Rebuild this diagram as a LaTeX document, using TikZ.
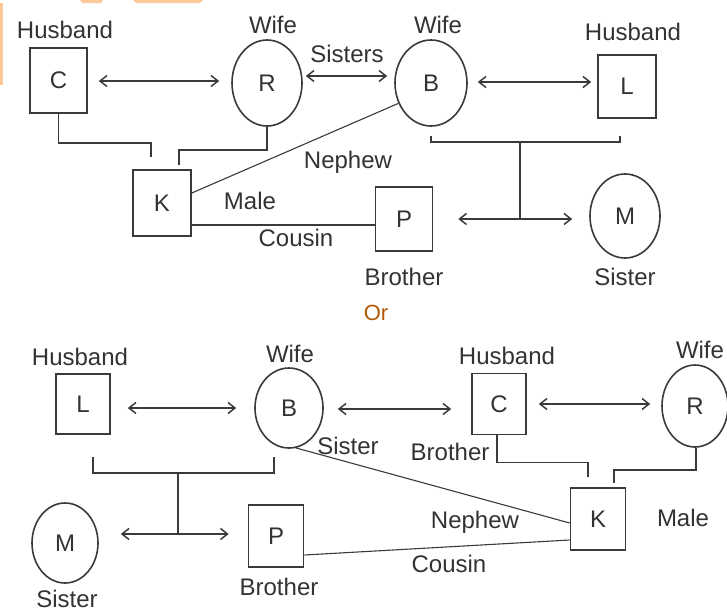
\documentclass[tikz,border=0pt]{standalone}
\usepackage{fontspec}
\setmainfont{Liberation Sans}
\usetikzlibrary{shapes.geometric,arrows.meta}
\definecolor{ink}{HTML}{3A3A3A}
\definecolor{txt}{HTML}{333333}
\definecolor{orbrown}{HTML}{B35900}
\definecolor{wm}{HTML}{FDC89A}
\tikzset{
  lbl/.style={text=txt,font=\fontsize{24}{26}\selectfont,inner sep=0pt},
  person/.style={draw=ink,line width=1.6pt,text=txt,font=\fontsize{24}{26}\selectfont,inner sep=0pt},
  male/.style={person,rectangle},
  female/.style={person,ellipse},
  link/.style={draw=ink,line width=1.5pt},
  thin link/.style={draw=ink,line width=1.1pt},
  dbl/.style={link,{Straight Barb[length=7pt,width=11pt]}-{Straight Barb[length=7pt,width=11pt]}}
}
\begin{document}
\begin{tikzpicture}[x=1pt,y=-1pt]
\useasboundingbox[fill=white] (0,0) rectangle (727,613);
% watermark remnants
\fill[wm] (0,3) rectangle (2.5,85);
\fill[wm] (80,0) -- (103,0) -- (101,3) -- (82,3) -- cycle;
\fill[wm] (133,0) -- (203,0) -- (200,3) -- (136,3) -- cycle;

% ================= top diagram =================
\node[male,minimum width=57pt,minimum height=65pt] (C) at (58.5,80.5) {C};
\node[female,minimum width=70pt,minimum height=86pt] (R) at (267,83) {R};
\node[female,minimum width=72pt,minimum height=86pt] (B) at (431,83) {B};
\node[male,minimum width=58pt,minimum height=63pt] (L) at (627,86.5) {L};
\node[male,minimum width=58pt,minimum height=66pt] (K) at (162,203) {K};
\node[male,minimum width=57pt,minimum height=64pt] (P) at (404,219) {P};
\node[female,minimum width=70pt,minimum height=84pt] (M) at (625,216) {M};

\node[lbl] (t1) at (65,30) {Husband};
\node[lbl] (t2) at (273,25) {Wife};
\node[lbl] (t3) at (438,25) {Wife};
\node[lbl] (t4) at (633,32) {Husband};
\node[lbl] (t5) at (347,54) {Sisters};
\node[lbl] (t6) at (348,162) {Nephew};
\node[lbl] (t7) at (250,201) {Male};
\node[lbl] (t8) at (296,238) {Cousin};
\node[lbl] (t9) at (404,277) {Brother};
\node[lbl] (t10) at (625,277) {Sister};

\node[text=orbrown,font=\fontsize{22}{24}\selectfont,inner sep=0pt] (or) at (376,313) {Or};

% couples
\draw[dbl] ([xshift=11pt,yshift=-0.5pt]C.east) -- ([xshift=-12pt,yshift=-0.5pt]C.east -| R.west);
\draw[dbl] ([xshift=3pt,yshift=7pt]R.east) -- ([xshift=-7pt,yshift=7pt]R.east -| B.west);
\draw[dbl] ([xshift=10pt,yshift=1pt]B.east) -- ([xshift=-6pt,yshift=1pt]B.east -| L.west);
% children of B and L
\coordinate (bl1) at (431,136);
\coordinate (bl2) at (620,136);
\coordinate (blm) at (520,142);
\coordinate (bla) at (520,219);
\draw[link] (bl1) -- ++(0,6) -| (bl2);
\draw[link] (blm) -- (bla);
\draw[dbl] ([xshift=25pt]P.east |- bla) -- ([xshift=-17pt]M.west |- bla);
% parents of K
\coordinate (ck) at (151,157);
\coordinate (rk) at (179,165);
\draw[link] (C.south) -- ++(0,29) -| (ck);
\draw[link] (R.south) -- ++(0,23) -| (rk);
% nephew and cousin
\draw[thin link] (B.212) -- ([yshift=10pt]K.east);
\draw[link] ([yshift=-22pt]K.east) -- ([yshift=-22pt]K.east -| P.west);

% ================= bottom diagram =================
\node[male,minimum width=54pt,minimum height=60pt] (L2) at (83,404) {L};
\node[female,minimum width=68pt,minimum height=80pt] (B2) at (289,408) {B};
\node[male,minimum width=54pt,minimum height=61pt] (C2) at (499,404) {C};
\node[female,minimum width=66pt,minimum height=82pt] (R2) at (695,406) {R};
\node[male,minimum width=55pt,minimum height=62pt] (K2) at (598,519) {K};
\node[female,minimum width=66pt,minimum height=80pt] (M2) at (65,543) {M};
\node[male,minimum width=55pt,minimum height=62pt] (P2) at (276,536) {P};

\node[lbl] (u1) at (80,357) {Husband};
\node[lbl] (u2) at (290,354) {Wife};
\node[lbl] (u3) at (507,356) {Husband};
\node[lbl] (u4) at (700,350) {Wife};
\node[lbl] (u5) at (348,446) {Sister};
\node[lbl] (u6) at (450,452) {Brother};
\node[lbl] (u7) at (475,522) {Nephew};
\node[lbl] (u8) at (683,518) {Male};
\node[lbl] (u9) at (449,564) {Cousin};
\node[lbl] (u10) at (67,599) {Sister};
\node[lbl] (u11) at (279,587) {Brother};

% couples
\draw[dbl] ([xshift=17pt,yshift=-4pt]L2.east) -- ([xshift=-18pt,yshift=-4pt]L2.east -| B2.west);
\draw[dbl] ([xshift=14pt,yshift=-1pt]B2.east) -- ([xshift=-20pt,yshift=-1pt]B2.east -| C2.west);
\draw[dbl] ([xshift=12pt]C2.east) -- ([xshift=-11pt]C2.east -| R2.west);
% children of L and B
\coordinate (lb1) at (93,457);
\coordinate (lb2) at (274,457);
\coordinate (lbm) at (178,473);
\coordinate (lba) at (178,534);
\draw[link] (lb1) -- ++(0,16) -| (lb2);
\draw[link] (lbm) -- (lba);
\draw[dbl] ([xshift=22pt]M2.east |- lba) -- ([xshift=-19pt]P2.west |- lba);
% parents of K
\coordinate (ck2) at (588,477);
\coordinate (rk2) at (614,483);
\draw[link] ([xshift=-2pt]C2.south) -- ++(0,27) -| (ck2);
\draw[link] ([xshift=1pt]R2.south) -- ++(0,22) -| (rk2);
% nephew and cousin
\draw[thin link] (B2.280) -- ([yshift=-4pt]K2.west);
\draw[thin link] ([yshift=-19pt]P2.east) -- ([yshift=-21pt]K2.west);
\end{tikzpicture}
\end{document}
